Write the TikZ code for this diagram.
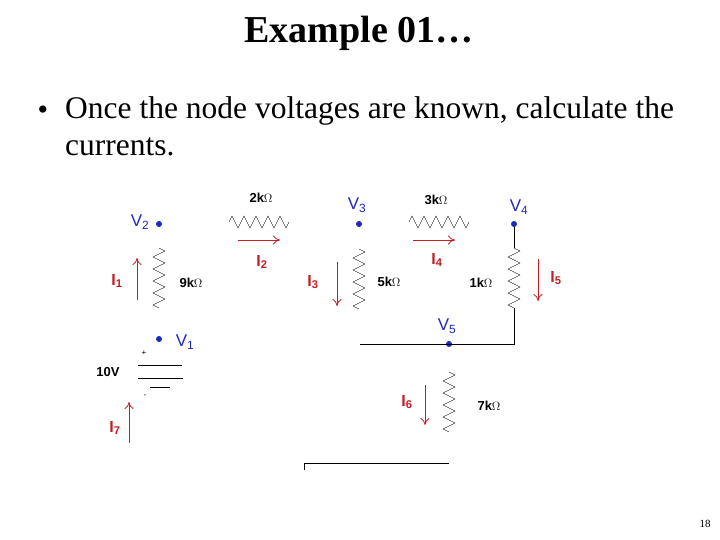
\documentclass[tikz,border=0pt]{standalone}
\usepackage{fontspec}
\setmainfont{Liberation Serif}
\setsansfont{Liberation Sans}
\usetikzlibrary{arrows.meta}
\usetikzlibrary{decorations.pathmorphing}
\definecolor{curred}{RGB}{196,30,36}
\definecolor{nodeblue}{RGB}{30,40,190}
\tikzstyle{dotnode}=[circle, fill=nodeblue, inner sep=0pt, minimum size=6pt]
\tikzstyle{vlabel}=[text=nodeblue, font=\sffamily\fontsize{17}{17}\selectfont, inner sep=0pt]
\tikzstyle{ilabel}=[text=curred, font=\sffamily\bfseries\fontsize{16}{16}\selectfont, inner sep=0pt]
\tikzstyle{rlabel}=[font=\sffamily\bfseries\fontsize{13}{13}\selectfont, inner sep=0pt]
\tikzstyle{resistor}=[decorate, decoration={zigzag, segment length=12pt, amplitude=6pt}]
\tikzstyle{current}=[-{To[length=7pt, width=9pt]}, color=curred, line width=0.8pt]

\begin{document}
\begin{tikzpicture}[x=1pt, y=-1pt]
\useasboundingbox (0,0) rectangle (720,540);
\node (title) at (359,33) {\fontsize{38}{38}\selectfont\bfseries Example 01\ldots};
\node[inner sep=0pt, font=\fontsize{30}{30}\selectfont] (bullet) at (43,113) {\textbullet};
\node[anchor=north west, inner sep=0pt, align=left, font=\fontsize{31.5}{37}\selectfont] (text) at (65,96) {Once the node voltages are known, calculate the\\currents.};

% nodes
\node [dotnode] (v2) at (159,224) {};
\node [dotnode] (v1) at (159,339) {};
\node [dotnode] (v3) at (359,224) {};
\node [dotnode] (v4) at (514,224) {};
\node [dotnode] (v5) at (449,344) {};
\node [vlabel] (lv2) at (140,222) {V\textsubscript{2}};
\node [vlabel] (lv1) at (185,342) {V\textsubscript{1}};
\node [vlabel] (lv3) at (357,205) {V\textsubscript{3}};
\node [vlabel] (lv4) at (519,207) {V\textsubscript{4}};
\node [vlabel] (lv5) at (447,326) {V\textsubscript{5}};

% resistor ends
\coordinate (r9a) at (159,248); \coordinate (r9b) at (159,308);
\coordinate (r2a) at (229,222); \coordinate (r2b) at (289,222);
\coordinate (r5a) at (359,249); \coordinate (r5b) at (359,309);
\coordinate (r3a) at (409,222); \coordinate (r3b) at (469,222);
\coordinate (r1a) at (514,248); \coordinate (r1b) at (514,308);
\coordinate (r7a) at (449,372); \coordinate (r7b) at (449,432);
\coordinate (c54) at (514,344); \coordinate (c5l) at (360,344);
\coordinate (gl) at (304,463); \coordinate (gr) at (449,463);
\coordinate (gt) at (304,470);

\draw[resistor] (r9a) -- (r9b);
\draw[resistor] (r2a) -- (r2b);
\draw[resistor] (r5a) -- (r5b);
\draw[resistor] (r3a) -- (r3b);
\draw[resistor] (r1a) -- (r1b);
\draw[resistor] (r7a) -- (r7b);
\draw (v4) -- (r1a);
\draw (r1b) -- (c54) -- (c5l);
\draw (gt) -- (gl) -- (gr);

\node [rlabel] (l9k) at (191,283) {9k$\Omega$};
\node [rlabel] (l2k) at (261,198) {2k$\Omega$};
\node [rlabel] (l5k) at (389,282) {5k$\Omega$};
\node [rlabel] (l3k) at (436,200) {3k$\Omega$};
\node [rlabel] (l1k) at (481,283) {1k$\Omega$};
\node [rlabel] (l7k) at (489,406) {7k$\Omega$};

% battery
\coordinate (b1a) at (138,365); \coordinate (b1b) at (182,365);
\coordinate (b2a) at (138,378); \coordinate (b2b) at (183,378);
\coordinate (b3a) at (150,387); \coordinate (b3b) at (170,387);
\draw (b1a) -- (b1b);
\draw (b2a) -- (b2b);
\draw (b3a) -- (b3b);
\node [font=\sffamily\fontsize{8}{8}\selectfont] (plus) at (144,353) {+};
\node [font=\sffamily\fontsize{8}{8}\selectfont] (minus) at (145,396) {-};
\node [rlabel] (l10v) at (108,372) {10V};

% currents
\coordinate (i1a) at (137,300); \coordinate (i1b) at (137,258);
\coordinate (i2a) at (238,240); \coordinate (i2b) at (280,240);
\coordinate (i3a) at (337,262); \coordinate (i3b) at (337,306);
\coordinate (i4a) at (413,240); \coordinate (i4b) at (455,240);
\coordinate (i5a) at (538,259); \coordinate (i5b) at (538,301);
\coordinate (i6a) at (425,385); \coordinate (i6b) at (425,425);
\coordinate (i7a) at (129,443); \coordinate (i7b) at (129,402);
\draw[current] (i1a) -- (i1b);
\draw[current] (i2a) -- (i2b);
\draw[current] (i3a) -- (i3b);
\draw[current] (i4a) -- (i4b);
\draw[current] (i5a) -- (i5b);
\draw[current] (i6a) -- (i6b);
\draw[current] (i7a) -- (i7b);
\node [ilabel] (li1) at (117,281) {I\textsubscript{1}};
\node [ilabel] (li2) at (262,262) {I\textsubscript{2}};
\node [ilabel] (li3) at (313,282) {I\textsubscript{3}};
\node [ilabel] (li4) at (437,260) {I\textsubscript{4}};
\node [ilabel] (li5) at (556,278) {I\textsubscript{5}};
\node [ilabel] (li6) at (407,402) {I\textsubscript{6}};
\node [ilabel] (li7) at (115,428) {I\textsubscript{7}};

\node [font=\fontsize{11}{11}\selectfont] (page) at (705,524) {18};
\end{tikzpicture}
\end{document}
